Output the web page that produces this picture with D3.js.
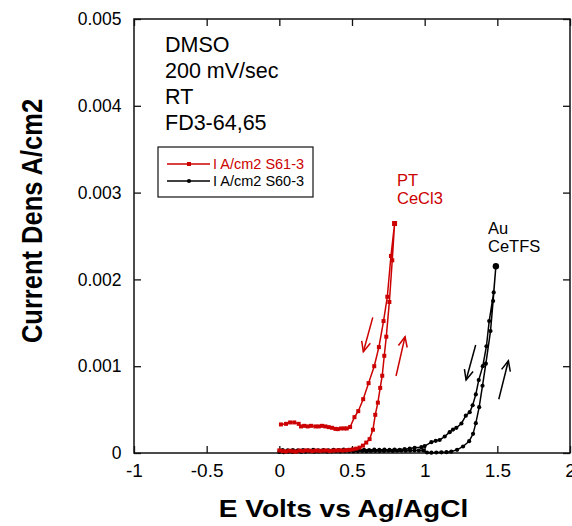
<!DOCTYPE html>
<html><head><meta charset="utf-8">
<script src="https://cdn.jsdelivr.net/npm/d3@7/dist/d3.min.js"></script>
<style>html,body{margin:0;padding:0;background:#fff}svg{display:block}</style>
</head><body><svg id="chart" width="572" height="526"></svg>
<script>
// ---- data ----
const xTickValues = [-1, -0.5, 0, 0.5, 1, 1.5, 2];
const xTickLabels = ["-1", "-0.5", "0", "0.5", "1", "1.5", "2"];
const yTickValues = [0, 0.001, 0.002, 0.003, 0.004, 0.005];
const yTickLabels = ["0", "0.001", "0.002", "0.003", "0.004", "0.005"];

// S61-3 (Pt, CeCl3): forward scan then reverse scan
const redE = [0.000,0.023,0.046,0.069,0.092,0.115,0.138,0.161,0.184,0.207,0.230,0.253,0.276,0.299,0.322,0.345,0.368,0.391,0.414,0.437,0.460,0.483,0.506,0.529,0.552,0.575,0.598,0.621,0.644,0.660,0.678,0.694,0.708,0.722,0.736,0.757,0.777,0.793,
  0.768,0.743,0.717,0.685,0.653,0.614,0.577,0.543,0.517,0.487,0.464,0.448,0.425,0.402,0.386,0.363,0.340,0.317,0.294,0.271,0.248,0.218,0.195,0.172,0.149,0.133,0.103,0.074,0.046,0.011];
const redI = [0.000030,0.000022,0.000018,0.000026,0.000020,0.000016,0.000028,0.000024,0.000030,0.000027,0.000022,0.000029,0.000025,0.000027,0.000030,0.000024,0.000027,0.000030,0.000031,0.000029,0.000033,0.000036,0.000042,0.000050,0.000062,0.000085,0.000120,0.000160,0.000268,0.000440,0.000580,0.000750,0.000890,0.001120,0.001340,0.001740,0.002220,0.002644,
  0.002270,0.001800,0.001520,0.001220,0.001000,0.000805,0.000620,0.000482,0.000413,0.000300,0.000283,0.000283,0.000283,0.000275,0.000278,0.000290,0.000298,0.000306,0.000313,0.000306,0.000306,0.000313,0.000306,0.000313,0.000306,0.000336,0.000352,0.000352,0.000336,0.000329];

// S60-3 (Au, CeTFS): forward scan then reverse scan
const blackE = [0.00,0.03,0.06,0.09,0.12,0.15,0.18,0.21,0.24,0.27,0.30,0.33,0.36,0.39,0.42,0.45,0.48,0.51,0.54,0.57,0.60,0.63,0.66,0.69,0.72,0.75,0.78,0.81,0.84,0.87,0.90,0.93,0.96,0.99,
  1.016,1.046,1.080,1.115,1.150,1.183,1.223,1.264,1.306,1.333,1.352,1.375,1.398,1.421,1.453,1.471,1.490,
  1.475,1.444,1.425,1.400,1.372,1.352,1.330,1.310,1.283,1.253,1.218,1.195,1.172,1.138,1.103,1.076,1.046,1.000,0.977,0.931,0.897,0.862,0.828,
  0.793,0.758,0.723,0.688,0.653,0.618,0.583,0.548,0.513,0.478,0.443,0.408,0.373,0.338,0.303,0.268,0.233,0.198,0.163,0.128,0.093,0.058,0.023];
const blackI = [0.000012,0.000010,0.000015,0.000012,0.000018,0.000014,0.000016,0.000020,0.000015,0.000018,0.000020,0.000016,0.000019,0.000022,0.000018,0.000020,0.000022,0.000019,0.000022,0.000024,0.000021,0.000023,0.000025,0.000022,0.000024,0.000026,0.000024,0.000026,0.000028,0.000026,0.000028,0.000030,0.000028,0.000030,
  0.000006,0.000004,0.000006,0.000008,0.000010,0.000016,0.000037,0.000075,0.000136,0.000221,0.000344,0.000528,0.000775,0.001029,0.001405,0.001751,0.002151,
  0.001850,0.001520,0.001230,0.001000,0.000840,0.000675,0.000550,0.000470,0.000430,0.000340,0.000290,0.000270,0.000240,0.000190,0.000150,0.000140,0.000125,0.000080,0.000067,0.000060,0.000052,0.000044,0.000037,
  0.000040,0.000036,0.000040,0.000035,0.000038,0.000034,0.000036,0.000040,0.000033,0.000035,0.000038,0.000032,0.000036,0.000030,0.000034,0.000031,0.000036,0.000030,0.000033,0.000030,0.000034,0.000030,0.000032];

// direction arrows [E tail, I tail, E head, I head]
const arrowsRed = [[0.643,0.001563,0.578,0.001167],[0.803,0.000887,0.865,0.001340]];
const arrowsBlack = [[1.351,0.001244,1.285,0.000841],[1.510,0.000619,1.576,0.001063]];

const legendLabels = ["I A/cm2 S61-3", "I A/cm2 S60-3"];
const noteLines = ["DMSO", "200 mV/sec", "RT", "FD3-64,65"];
const RED = "#cc0000";
const FONT = "'Liberation Sans', Arial, Helvetica, sans-serif";

// ---- layout ----
const L = 134, R = 570, T = 19, B = 453;
const svg = d3.select("#chart");
const x = d3.scaleLinear().domain([-1, 2]).range([L, R]);
const y = d3.scaleLinear().domain([0, 0.005]).range([B, T]);

// frame
svg.append("rect").attr("x", L).attr("y", T).attr("width", R - L).attr("height", B - T)
  .attr("fill", "none").attr("stroke", "#111").attr("stroke-width", 1.5);

function styleAxis(g, size) {
  g.select(".domain").remove();
  g.selectAll(".tick line").attr("stroke", "#111").attr("stroke-width", 1.3);
  g.selectAll(".tick text").attr("fill", "#000").style("font-family", FONT).style("font-size", size + "px");
}
svg.append("g").attr("transform", `translate(0,${B})`)
  .call(d3.axisBottom(x).tickValues(xTickValues).tickFormat((d, i) => xTickLabels[i]).tickSizeInner(-7).tickSizeOuter(0).tickPadding(11))
  .call(g => styleAxis(g, 19));
svg.append("g").attr("transform", `translate(0,${T})`)
  .call(d3.axisTop(x).tickValues(xTickValues).tickFormat("").tickSizeInner(-7).tickSizeOuter(0))
  .call(g => styleAxis(g, 19));
svg.append("g").attr("transform", `translate(${L},0)`)
  .call(d3.axisLeft(y).tickValues(yTickValues).tickFormat((d, i) => yTickLabels[i]).tickSizeInner(-7).tickSizeOuter(0).tickPadding(12.5))
  .call(g => styleAxis(g, 17.5));
svg.append("g").attr("transform", `translate(${R},0)`)
  .call(d3.axisRight(y).tickValues(yTickValues).tickFormat("").tickSizeInner(-7).tickSizeOuter(0))
  .call(g => styleAxis(g, 17.5));

// axis titles
svg.append("text").attr("transform", `translate(343.5,517) scale(1.21,1)`)
  .attr("text-anchor", "middle").style("font-family", FONT).style("font-weight", "bold").style("font-size", "23.2px")
  .text("E Volts vs Ag/AgCl");
svg.append("text").attr("transform", `translate(41.5,221) scale(1.17,1) rotate(-90)`)
  .attr("text-anchor", "middle").style("font-family", FONT).style("font-weight", "bold").style("font-size", "25.5px")
  .text("Current Dens A/cm2");

// series
const line = d3.line().x(d => x(d[0])).y(d => y(d[1]));
const redData = redE.map((e, i) => [e, redI[i]]);
const blackData = blackE.map((e, i) => [e, blackI[i]]);

svg.append("path").datum(blackData).attr("d", line).attr("fill", "none").attr("stroke", "#000").attr("stroke-width", 1.5);
svg.append("g").selectAll("circle").data(blackData).join("circle")
  .attr("cx", d => x(d[0])).attr("cy", d => y(d[1]))
  .attr("r", (d, i) => i === 50 ? 3.2 : 2.1).attr("fill", "#000");

svg.append("path").datum(redData).attr("d", line).attr("fill", "none").attr("stroke", RED).attr("stroke-width", 1.5);
svg.append("g").selectAll("rect").data(redData).join("rect")
  .attr("x", (d, i) => x(d[0]) - (i === 37 ? 2.5 : 2)).attr("y", (d, i) => y(d[1]) - (i === 37 ? 2.5 : 2))
  .attr("width", (d, i) => i === 37 ? 5 : 4).attr("height", (d, i) => i === 37 ? 5 : 4).attr("fill", RED);

// arrows
function drawArrow(a, color) {
  const x1 = x(a[0]), y1 = y(a[1]), x2 = x(a[2]), y2 = y(a[3]);
  const ang = Math.atan2(y2 - y1, x2 - x1), len = 11, spread = 0.42;
  const g = svg.append("g").attr("stroke", color).attr("stroke-width", 1.5).attr("fill", "none");
  g.append("line").attr("x1", x1).attr("y1", y1).attr("x2", x2).attr("y2", y2);
  g.append("path").attr("d",
    `M${x2 - len * Math.cos(ang - spread)},${y2 - len * Math.sin(ang - spread)}L${x2},${y2}L${x2 - len * Math.cos(ang + spread)},${y2 - len * Math.sin(ang + spread)}`);
}
arrowsRed.forEach(a => drawArrow(a, RED));
arrowsBlack.forEach(a => drawArrow(a, "#000"));

// notes
const notes = svg.append("text").style("font-family", FONT).style("font-size", "21.5px").attr("fill", "#000");
noteLines.forEach((t, i) => notes.append("tspan").attr("x", 165).attr("y", 52 + i * 26).text(t));

const ann1 = svg.append("text").style("font-family", FONT).style("font-size", "16.5px").attr("fill", RED);
["PT", "CeCl3"].forEach((t, i) => ann1.append("tspan").attr("x", 397).attr("y", 186 + i * 18).text(t));
const ann2 = svg.append("text").style("font-family", FONT).style("font-size", "16.5px").attr("fill", "#000");
["Au", "CeTFS"].forEach((t, i) => ann2.append("tspan").attr("x", 488).attr("y", 234 + i * 18).text(t));

// legend
const lg = svg.append("g");
lg.append("rect").attr("x", 158).attr("y", 147).attr("width", 155).attr("height", 50)
  .attr("fill", "#fff").attr("stroke", "#111").attr("stroke-width", 1.2);
[[RED, 164, "sq"], ["#000", 181, "c"]].forEach((s, i) => {
  lg.append("line").attr("x1", 167).attr("x2", 210).attr("y1", s[1]).attr("y2", s[1]).attr("stroke", s[0]).attr("stroke-width", 1.3);
  if (s[2] === "sq") lg.append("rect").attr("x", 187).attr("y", s[1] - 2).attr("width", 4).attr("height", 4).attr("fill", s[0]);
  else lg.append("circle").attr("cx", 189).attr("cy", s[1]).attr("r", 2.1).attr("fill", s[0]);
  lg.append("text").attr("x", 213).attr("y", s[1] + 5.3).style("font-family", FONT).style("font-size", "14.5px")
    .attr("fill", s[0]).text(legendLabels[i]);
});
</script>
</body></html>
